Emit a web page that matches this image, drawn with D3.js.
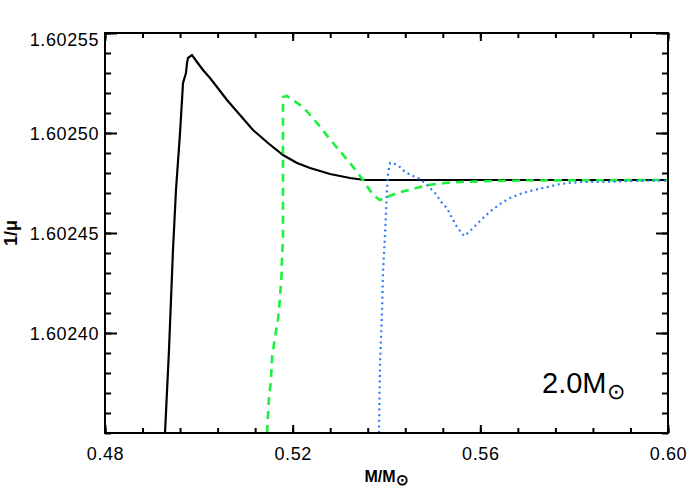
<!DOCTYPE html>
<html>
<head>
<meta charset="utf-8">
<script src="https://cdn.jsdelivr.net/npm/d3@7"></script>
<style>
  body { margin: 0; background: #fff; }
  svg text { font-family: "Liberation Sans", Arial, sans-serif; }
</style>
</head>
<body>
<div id="chart"></div>
<script>
// 1/mu profiles against mass coordinate, 2.0 Msun model

// solid black
const blackX = [0.49279, 0.49364, 0.49449, 0.49513, 0.49599, 0.49663, 0.49726, 0.49748, 0.49769,
    0.49854, 0.49961, 0.50089, 0.50238, 0.50387, 0.50600, 0.50877, 0.51154, 0.51474, 0.51794,
    0.52092, 0.52370, 0.52796, 0.53222, 0.53542, 0.60];
const blackY = [1.60235, 1.6023915, 1.6024415, 1.6024715, 1.60250, 1.602525, 1.602530, 1.602535,
    1.6025375, 1.602539, 1.6025355, 1.6025315, 1.6025275, 1.602523, 1.6025165, 1.602509, 1.6025015,
    1.602495, 1.602489, 1.602485, 1.6024825, 1.6024795, 1.6024775, 1.6024765, 1.6024765];

// dashed green
const greenX = [0.51453, 0.51496, 0.51538, 0.51560, 0.51623, 0.51687, 0.51730, 0.51762, 0.51773,
    0.51794, 0.51794, 0.51879, 0.52220, 0.52519, 0.52860, 0.53222, 0.53499, 0.53712, 0.53862,
    0.54224, 0.54565, 0.54885, 0.55247, 0.55567, 0.55929, 0.56249, 0.56909, 0.60];
const greenY = [1.60235, 1.602368, 1.6023765, 1.6023875, 1.602398, 1.6024065, 1.602418, 1.602428,
    1.602438, 1.6024465, 1.602518, 1.6025185, 1.602513, 1.602505, 1.602495, 1.602485, 1.6024765,
    1.602469, 1.6024665, 1.60247, 1.602472, 1.602474, 1.602475, 1.6024755, 1.60247575, 1.602476,
    1.60247625, 1.6024765];

// dotted blue
const blueX = [0.53840, 0.53862, 0.53904, 0.53925, 0.53968, 0.54011, 0.54032, 0.54075, 0.54181,
    0.54288, 0.54394, 0.54565, 0.54714, 0.54863, 0.55034, 0.55183, 0.55290, 0.55396, 0.55503,
    0.55652, 0.55737, 0.55886, 0.56057, 0.56249, 0.56419, 0.56632, 0.56845, 0.57059, 0.57336,
    0.57698, 0.58124, 0.58551, 0.59254, 0.60];
const blueY = [1.60235, 1.602385, 1.60241, 1.60243, 1.602449, 1.6024715, 1.60248, 1.602485,
    1.6024845, 1.602483, 1.6024805, 1.6024785, 1.602477, 1.602474, 1.60247, 1.602465, 1.6024625,
    1.6024575, 1.602453, 1.6024485, 1.60245, 1.6024535, 1.6024575, 1.6024615, 1.6024645,
    1.6024675, 1.6024695, 1.602471, 1.6024725, 1.6024745, 1.6024755, 1.6024755, 1.602476,
    1.60247625];

const xTicks = [0.48, 0.52, 0.56, 0.60];
const yTicks = [1.60240, 1.60245, 1.60250, 1.60255];
const xDomain = [0.48, 0.60];
const yDomain = [1.60235, 1.60255];
const xMinorStep = 0.008;
const yMinorStep = 0.00001;

const width = 700, height = 500;
const margin = { left: 105, right: 32, top: 33, bottom: 67 };
const w = width - margin.left - margin.right;
const h = height - margin.top - margin.bottom;

const svg = d3.select('#chart').append('svg')
    .attr('width', width)
    .attr('height', height);

const g = svg.append('g').attr('transform', `translate(${margin.left},${margin.top})`);

const x = d3.scaleLinear().domain(xDomain).range([0, w]);
const y = d3.scaleLinear().domain(yDomain).range([h, 0]);

const xMinor = d3.range(xDomain[0], xDomain[1] + 1e-9, xMinorStep);
const yMinor = d3.range(yDomain[0], yDomain[1] + 1e-12, yMinorStep);

g.append('clipPath').attr('id', 'plot-clip')
    .append('rect').attr('width', w).attr('height', h);

// curves
const series = [
    { xs: blackX, ys: blackY, color: '#000', width: 2.2, dash: null },
    { xs: greenX, ys: greenY, color: '#1bf03c', width: 2.6, dash: '8,6' },
    { xs: blueX, ys: blueY, color: '#2f7bf5', width: 2.2, dash: '2,3.6' }
];

const line = d3.line().x(d => x(d[0])).y(d => y(d[1]));

series.forEach(s => {
    g.append('path')
        .datum(d3.zip(s.xs, s.ys))
        .attr('clip-path', 'url(#plot-clip)')
        .attr('fill', 'none')
        .attr('stroke', s.color)
        .attr('stroke-width', s.width)
        .attr('stroke-dasharray', s.dash)
        .attr('d', line);
});

// axes: ticks point inward on all four sides
function styleAxis(sel) {
    sel.select('.domain').remove();
    sel.selectAll('.tick line').attr('stroke', '#000').attr('stroke-width', 2);
    sel.selectAll('.tick text')
        .attr('fill', '#000')
        .attr('font-size', '18px')
        .style('letter-spacing', '0.6px');
}

g.append('g').attr('transform', `translate(0,${h})`)
    .call(d3.axisBottom(x).tickValues(xMinor).tickSize(-5).tickFormat(''))
    .call(styleAxis);
g.append('g').attr('transform', `translate(0,${h})`)
    .call(d3.axisBottom(x).tickValues(xTicks).tickSize(-8).tickPadding(14).tickFormat(d3.format('.2f')))
    .call(styleAxis);
g.append('g')
    .call(d3.axisTop(x).tickValues(xMinor).tickSize(-5).tickFormat(''))
    .call(styleAxis);
g.append('g')
    .call(d3.axisTop(x).tickValues(xTicks).tickSize(-8).tickFormat(''))
    .call(styleAxis);

g.append('g')
    .call(d3.axisLeft(y).tickValues(yMinor).tickSize(-6).tickFormat(''))
    .call(styleAxis);
const yAxis = g.append('g')
    .call(d3.axisLeft(y).tickValues(yTicks).tickSize(-12).tickPadding(6).tickFormat(d3.format('.5f')))
    .call(styleAxis);
// top label sits a little lower, as in the original
yAxis.selectAll('.tick text').attr('dy', d => d === yDomain[1] ? '0.68em' : '0.38em');
g.append('g').attr('transform', `translate(${w},0)`)
    .call(d3.axisRight(y).tickValues(yMinor).tickSize(-6).tickFormat(''))
    .call(styleAxis);
g.append('g').attr('transform', `translate(${w},0)`)
    .call(d3.axisRight(y).tickValues(yTicks).tickSize(-12).tickFormat(''))
    .call(styleAxis);

// frame
g.append('rect')
    .attr('width', w).attr('height', h)
    .attr('fill', 'none')
    .attr('stroke', '#000')
    .attr('stroke-width', 2);

// axis titles
const xTitle = svg.append('text')
    .attr('x', margin.left + w / 2)
    .attr('y', 482)
    .attr('text-anchor', 'middle')
    .attr('font-size', '16px')
    .attr('font-weight', 'bold');
xTitle.append('tspan').text('M/M');
xTitle.append('tspan').attr('font-size', '15px').attr('dy', 3).text('\u2299');

svg.append('text')
    .attr('transform', `translate(17,${margin.top + h / 2}) rotate(-90)`)
    .attr('text-anchor', 'middle')
    .attr('font-size', '18px')
    .attr('font-weight', 'bold')
    .text('1/\u03bc');

// model label
const label = svg.append('text')
    .attr('x', 542)
    .attr('y', 393)
    .attr('font-size', '29px');
label.append('tspan').text('2.0M');
label.append('tspan').attr('font-size', '22px').attr('dy', 6).attr('dx', 1).text('\u2299');
</script>
</body>
</html>
